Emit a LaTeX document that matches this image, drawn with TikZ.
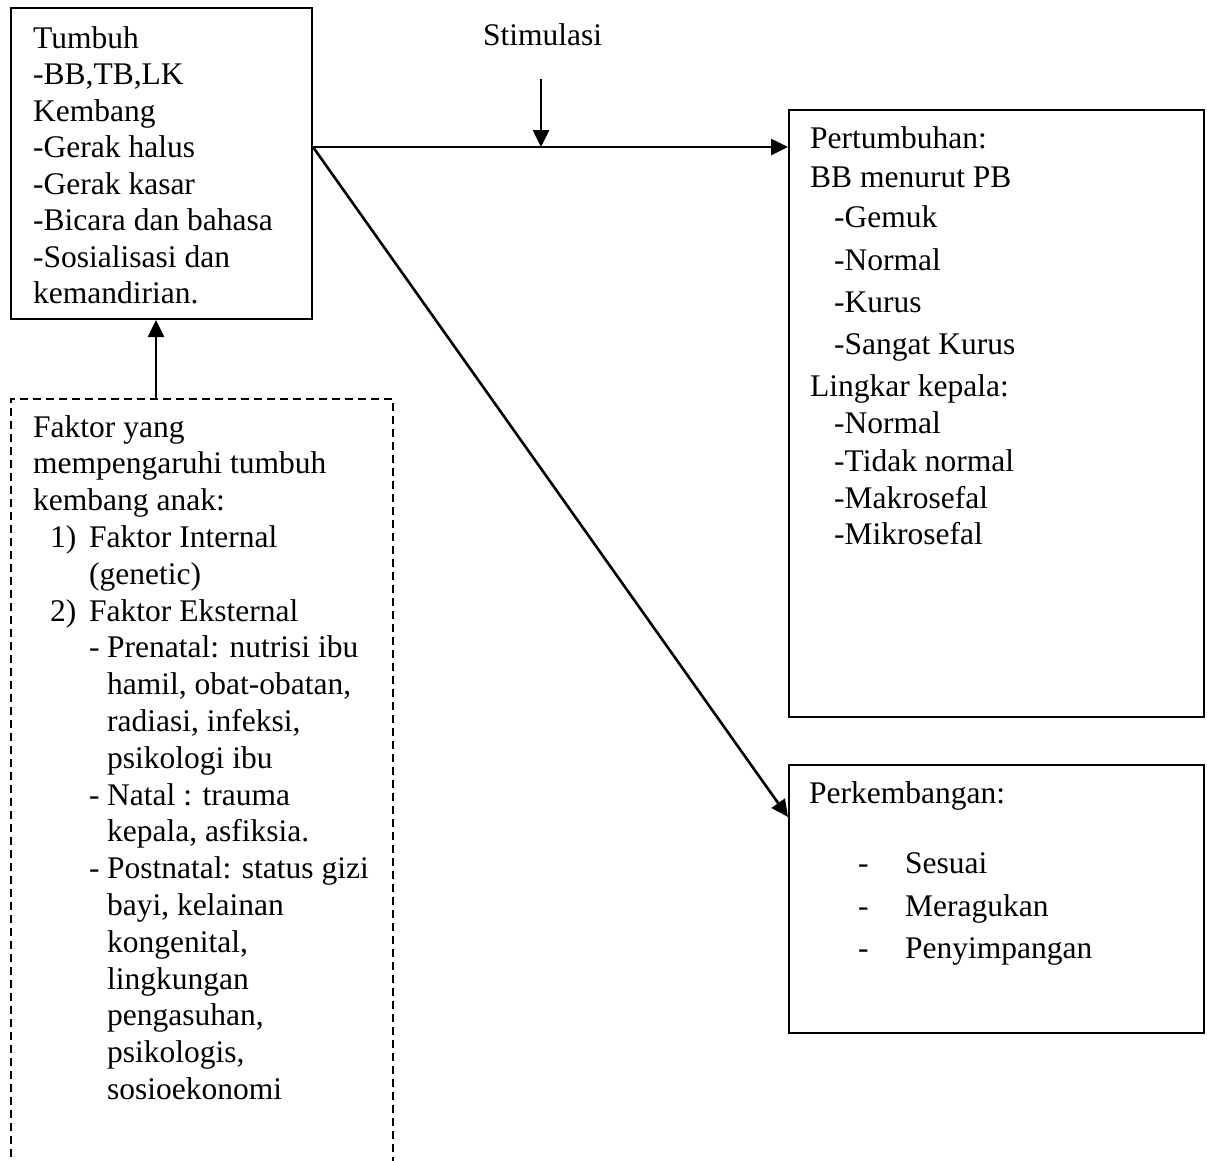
\documentclass[tikz,border=0pt]{standalone}
\usepackage{fontspec}
\setmainfont{Liberation Serif}
\usetikzlibrary{arrows.meta}
\begin{document}
\begin{tikzpicture}[x=1pt,y=-1pt,
  txt/.style={anchor=base west,inner sep=0pt,font=\fontsize{31.5}{36.7}\selectfont},
  solidbox/.style={draw,line width=2pt,rectangle,inner sep=0pt},
  dashbox/.style={draw,line width=1.8pt,rectangle,inner sep=0pt,dash pattern=on 8pt off 5pt},
  conn/.style={line width=2.6pt,-{Triangle[length=17pt,width=16pt]}}]
\useasboundingbox (0,0) rectangle (1207,1160);
\clip (0,0) rectangle (1207,1160);
\fill[white] (0,0) rectangle (1207,1160);

% boxes
\node[solidbox,minimum width=301pt,minimum height=311pt] (box1) at (161.5,163.5) {};
\node[dashbox,minimum width=382pt,minimum height=800pt] (fak) at (202,799) {};
\node[solidbox,minimum width=415pt,minimum height=607pt] (box2) at (996.5,413.5) {};
\node[solidbox,minimum width=415pt,minimum height=268pt] (box3) at (996.5,899) {};

% box1 text
\node[txt] (t1) at (33,48) {Tumbuh};
\node[txt] (t2) at (33,84.5) {-BB,TB,LK};
\node[txt] (t3) at (33,121) {Kembang};
\node[txt] (t4) at (33,157.5) {-Gerak halus};
\node[txt] (t5) at (33,194) {-Gerak kasar};
\node[txt] (t6) at (33,230.5) {-Bicara dan bahasa};
\node[txt] (t7) at (33,267) {-Sosialisasi dan};
\node[txt] (t8) at (33,303.5) {kemandirian.};

% factor text
\node[txt] (f1) at (33,437) {Faktor yang};
\node[txt] (f2) at (33,473.8) {mempengaruhi tumbuh};
\node[txt] (f3) at (33,510.6) {kembang anak:};
\node[txt] (f4n) at (50,547.4) {1)};
\node[txt] (f4) at (89,547.4) {Faktor Internal};
\node[txt] (f5) at (89,584.2) {(genetic)};
\node[txt] (f6n) at (50,621) {2)};
\node[txt] (f6) at (89,621) {Faktor Eksternal};
\node[txt] (f7d) at (89,657.8) {-};
\node[txt] (f7) at (107,657.8) {Prenatal: nutrisi ibu};
\node[txt] (f8) at (107,694.6) {hamil, obat-obatan,};
\node[txt] (f9) at (107,731.4) {radiasi, infeksi,};
\node[txt] (f10) at (107,768.2) {psikologi ibu};
\node[txt] (f11d) at (89,805) {-};
\node[txt] (f11) at (107,805) {Natal : trauma};
\node[txt] (f12) at (107,841.8) {kepala, asfiksia.};
\node[txt] (f13d) at (89,878.6) {-};
\node[txt] (f13) at (107,878.6) {Postnatal: status gizi};
\node[txt] (f14) at (107,915.4) {bayi, kelainan};
\node[txt] (f15) at (107,952.2) {kongenital,};
\node[txt] (f16) at (107,989) {lingkungan};
\node[txt] (f17) at (107,1025.8) {pengasuhan,};
\node[txt] (f18) at (107,1062.6) {psikologis,};
\node[txt] (f19) at (107,1099.4) {sosioekonomi};

% box2 text
\node[txt] (p1) at (810,148) {Pertumbuhan:};
\node[txt] (p2) at (810,187) {BB menurut PB};
\node[txt] (p3) at (834,227) {-Gemuk};
\node[txt] (p4) at (834,270) {-Normal};
\node[txt] (p5) at (834,312) {-Kurus};
\node[txt] (p6) at (834,354) {-Sangat Kurus};
\node[txt] (p7) at (810,396) {Lingkar kepala:};
\node[txt] (p8) at (834,433) {-Normal};
\node[txt] (p9) at (834,471) {-Tidak normal};
\node[txt] (p10) at (834,508) {-Makrosefal};
\node[txt] (p11) at (834,544) {-Mikrosefal};

% box3 text
\node[txt] (k1) at (809,803) {Perkembangan:};
\node[txt] (k2d) at (858,873) {-};
\node[txt] (k2) at (905,873) {Sesuai};
\node[txt] (k3d) at (858,916) {-};
\node[txt] (k3) at (905,916) {Meragukan};
\node[txt] (k4d) at (858,958) {-};
\node[txt] (k4) at (905,958) {Penyimpangan};

% stimulasi
\node[txt] (stim) at (483,45) {Stimulasi};

% connectors
\coordinate (hy) at (0,147);
\coordinate (dy) at (0,817);
\coordinate (ux) at (156,0);
\coordinate (stimtop) at (541,79);
\coordinate (junction) at (541,147);
\draw[conn] (box1.east |- hy) -- (box2.west |- hy);
\draw[conn] (stimtop) -- (junction);
\draw[conn] (box1.east |- hy) -- (box3.west |- dy);
\draw[conn] (fak.north -| ux) -- (box1.south -| ux);
\end{tikzpicture}
\end{document}
